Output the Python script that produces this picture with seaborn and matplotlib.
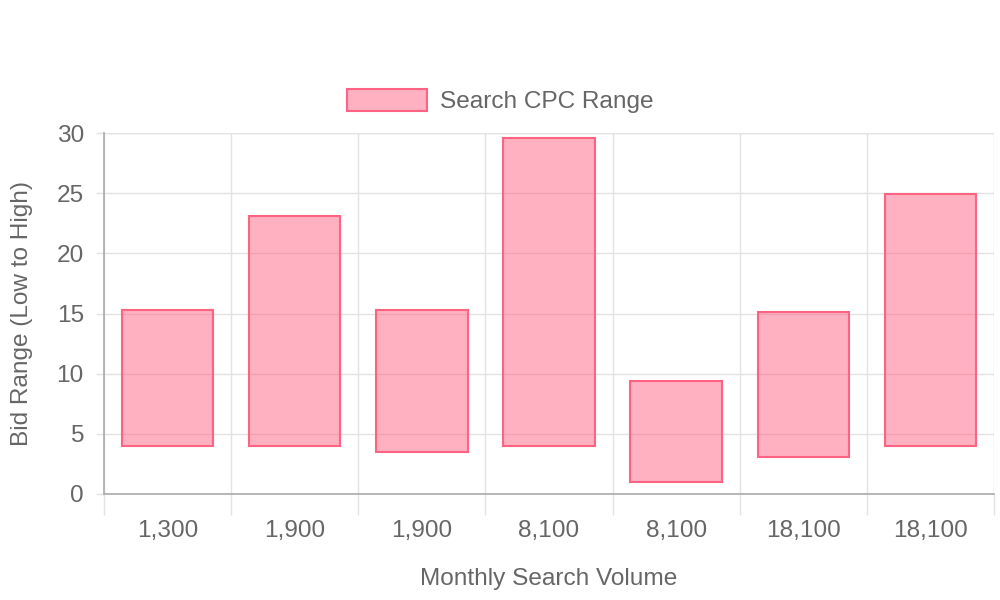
import matplotlib
matplotlib.use("Agg")
import matplotlib.pyplot as plt
import seaborn as sns
import numpy as np
from matplotlib.patches import Patch

volumes = ["1,300", "1,900", "1,900", "8,100", "8,100", "18,100", "18,100"]
low_bid = [4.0, 4.0, 3.45, 4.0, 1.0, 3.1, 4.0]
high_bid = [15.25, 23.1, 15.25, 29.6, 9.4, 15.15, 24.95]
series_name = "Search CPC Range"
x_title = "Monthly Search Volume"
y_title = "Bid Range (Low to High)"
y_ticks = [0, 5, 10, 15, 20, 25, 30]

sns.set_style("white")
plt.rcParams["font.family"] = ["Liberation Sans", "DejaVu Sans"]

TXT = "#666666"
GRID = "#e2e2e2"
AXC = "#aaaaaa"
FILL = (1.0, 99/255, 132/255, 0.5)
EDGE = (1.0, 99/255, 132/255, 1.0)
FS = 17.6

fig = plt.figure(figsize=(10, 6), dpi=100)
ax = fig.add_axes([0.104, 1 - 494/600, 0.890, 361/600])

idx = np.arange(len(volumes))
heights = np.array(high_bid) - np.array(low_bid)
sns.barplot(x=idx, y=heights, bottom=low_bid, ax=ax, color=FILL,
            edgecolor=EDGE, linewidth=1.5, width=0.72, saturation=1)
for p in ax.patches:
    p.set_facecolor(FILL)
    p.set_edgecolor(EDGE)

ax.set_xlim(-0.5, len(volumes) - 0.5)
ax.set_ylim(0, 30)
ax.set_yticks(y_ticks)
ax.set_yticklabels([str(t) for t in y_ticks])
ax.set_xticks(idx)
ax.set_xticklabels(volumes)
ax.set_xticks(np.arange(-0.5, len(volumes)), minor=True)

ax.set_axisbelow(True)
ax.grid(False)
ax.yaxis.grid(True, color=GRID, linewidth=1.0)
ax.xaxis.grid(True, which="minor", color=GRID, linewidth=1.0)

ax.tick_params(axis="x", which="major", bottom=True, length=0, pad=18.5,
               labelsize=FS, labelcolor=TXT)
ax.tick_params(axis="x", which="minor", bottom=True, length=15, width=1.0,
               color=GRID, direction="out")
ax.tick_params(axis="y", which="major", left=True, length=6, width=1.0, color=GRID,
               pad=8.5, labelsize=FS, labelcolor=TXT, direction="out")

for s in ["top", "right"]:
    ax.spines[s].set_visible(False)
ax.spines["left"].set_color(AXC)
ax.spines["bottom"].set_color(AXC)
ax.spines["left"].set_linewidth(1.2)
ax.spines["bottom"].set_linewidth(1.2)
ax.axhline(30, color=GRID, linewidth=1.0, zorder=0)

ax.xaxis.get_minor_ticks()[0].tick1line.set_color(AXC)
ax.yaxis.get_major_ticks()[0].tick1line.set_color(AXC)

ax.set_xlabel(x_title, fontsize=FS, color=TXT)
ax.set_ylabel(y_title, fontsize=FS, color=TXT)
ax.xaxis.label.set_va("center")
ax.yaxis.label.set_va("center")
ax.xaxis.set_label_coords(0.5, (494 - 579) / 361)
ax.yaxis.set_label_coords((22 - 104) / 890, (494 - 313) / 361)

handle = Patch(facecolor=FILL, edgecolor=EDGE, linewidth=1.5)
fig.legend([handle], [series_name], loc="center", bbox_to_anchor=(0.5, 1 - 101/600),
           frameon=False, fontsize=FS, labelcolor=TXT, handlelength=3.3,
           handleheight=1.0, handletextpad=0.5, borderpad=0)

fig.savefig("out.png", dpi=100)
